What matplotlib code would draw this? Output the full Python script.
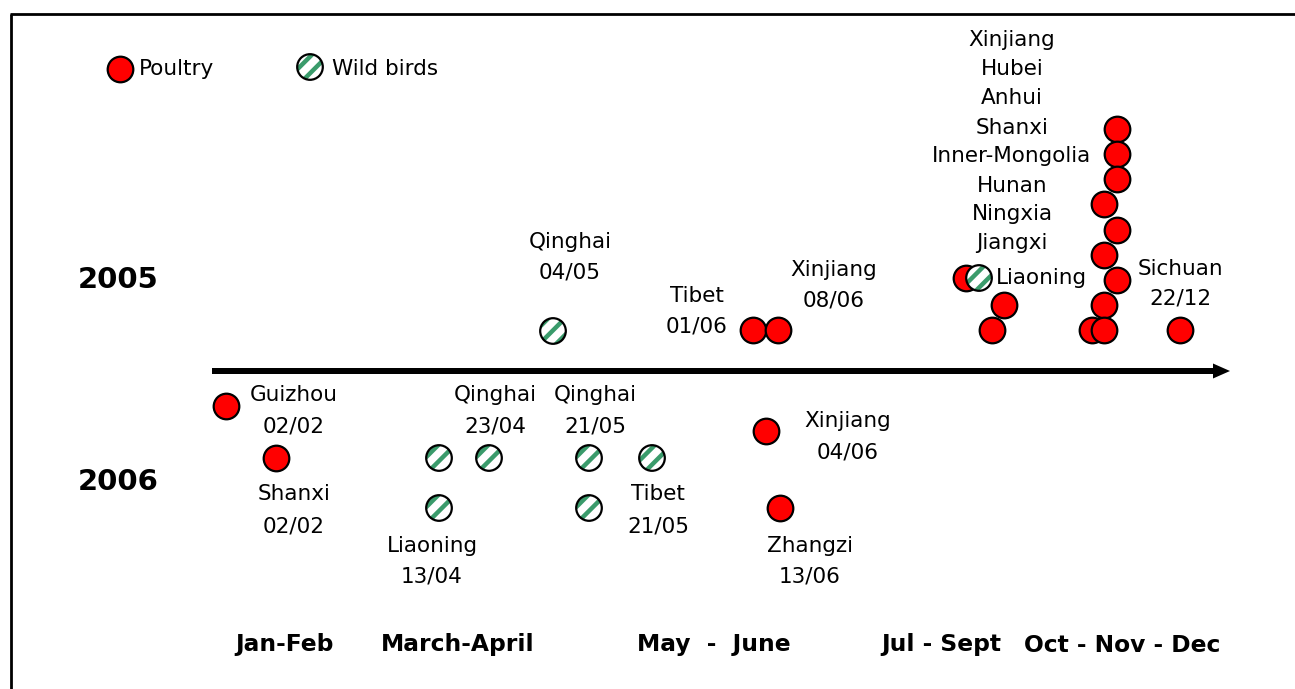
import matplotlib
matplotlib.use("Agg")
import matplotlib.pyplot as plt

# ---------------- data (schematic timeline positions) -------------
# Poultry outbreaks (x = timeline position, y = stacking position)
poultry_x = [753, 778, 966, 1004, 992, 1117, 1117, 1117, 1104, 1117, 1104, 1117, 1104, 1092, 1104, 1180,
             226, 276, 766, 780]
poultry_y = [330, 330, 278, 305, 330, 129, 154, 179, 204, 230, 255, 280, 305, 330, 330, 330,
             406, 458, 431, 508]
# Wild bird outbreaks
wild_x = [553, 979, 439, 489, 439, 589, 652, 589]
wild_y = [331, 278, 458, 458, 508, 458, 458, 508]

# Event labels (text, x, y)
event_labels = [
    ("Qinghai", 570, 242), ("04/05", 570, 273),
    ("Tibet", 697, 296), ("01/06", 697, 327),
    ("Xinjiang", 834, 270), ("08/06", 834, 300),
    ("Xinjiang", 1012, 40), ("Hubei", 1012, 69), ("Anhui", 1012, 98), ("Shanxi", 1012, 128),
    ("Inner-Mongolia", 1012, 156), ("Hunan", 1012, 186), ("Ningxia", 1012, 214), ("Jiangxi", 1012, 243),
    ("Liaoning", 1041, 278),
    ("Sichuan", 1180, 269), ("22/12", 1180, 299),
    ("Guizhou", 294, 395), ("02/02", 294, 427),
    ("Shanxi", 294, 494), ("02/02", 294, 526),
    ("Qinghai", 495, 395), ("23/04", 495, 427),
    ("Qinghai", 595, 395), ("21/05", 595, 427),
    ("Tibet", 658, 494), ("21/05", 658, 526),
    ("Liaoning", 432, 546), ("13/04", 432, 577),
    ("Xinjiang", 848, 421), ("04/06", 848, 452),
    ("Zhangzi", 810, 546), ("13/06", 810, 577),
]

years = ["2005", "2006"]
year_y = [280, 482]

periods = ["Jan-Feb", "March-April", "May  -  June", "Jul - Sept", "Oct - Nov - Dec"]
period_x = [284, 458, 714, 941, 1122]

legend_items = ["Poultry", "Wild birds"]

# ---------------- styling --------------------------------------------------------------
RED = "#ff0000"
GREEN = "#3a9b6b"
plt.rcParams["font.family"] = ["DejaVu Sans"]
plt.rcParams["hatch.linewidth"] = 3.2

fig = plt.figure(figsize=(12.95, 6.89), dpi=100)
ax = fig.add_axes([0, 0, 1, 1])
ax.set_xlim(0, 1295)
ax.set_ylim(689, 0)
ax.axis("off")

# frame (top and left)
ax.plot([10, 1295], [14, 14], color="black", lw=2.0, solid_capstyle="butt")
ax.plot([10.5, 10.5], [14, 689], color="black", lw=2.0, solid_capstyle="butt")

# timeline arrow
ax.arrow(212, 371, 1018, 0, width=6, head_width=15, head_length=17,
         length_includes_head=True, fc="black", ec="none", zorder=2)

S = 340
LW = 1.6


def draw_poultry(x, y):
    ax.scatter(x, y, s=S, c=RED, edgecolors="black", linewidths=LW, zorder=3)


def draw_wild(x, y):
    ax.scatter(x, y, s=S, facecolors="white", edgecolors=GREEN, hatch="//",
               linewidths=0, zorder=4)
    ax.scatter(x, y, s=S, facecolors="none", edgecolors="black", linewidths=LW, zorder=4)


# draw in order so that overlaps look like the reference
draw_poultry(poultry_x, poultry_y)
draw_wild(wild_x, wild_y)

# legend
draw_poultry([120], [69])
draw_wild([310], [67])
ax.text(139, 69, legend_items[0], fontsize=15.5, ha="left", va="center")
ax.text(332, 69, legend_items[1], fontsize=15.5, ha="left", va="center")

# event labels
for t, x, y in event_labels:
    ax.text(x, y, t, fontsize=15.5, ha="center", va="center", zorder=5)

# year labels
for t, y in zip(years, year_y):
    ax.text(118, y, t, fontsize=21, fontweight="bold", ha="center", va="center")

# period labels
for t, x in zip(periods, period_x):
    ax.text(x, 645, t, fontsize=16.8, fontweight="bold", ha="center", va="center")

fig.savefig("out.png", dpi=100)
